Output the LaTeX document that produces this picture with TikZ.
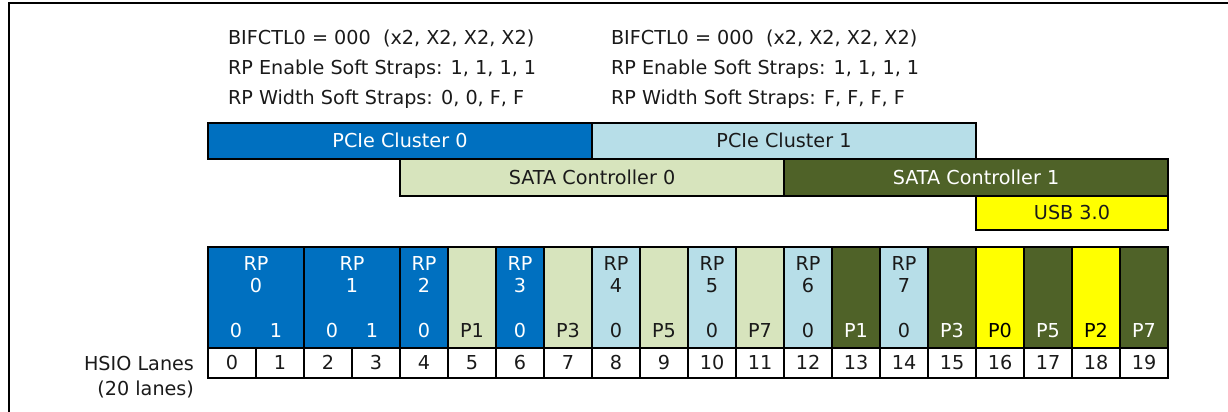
\documentclass[tikz,border=0pt]{standalone}
\usepackage{fontspec}
\setmainfont{DejaVu Sans}
\usetikzlibrary{calc}
\definecolor{cbA}{HTML}{0070C0}
\definecolor{cbB}{HTML}{B7DEE8}
\definecolor{cgA}{HTML}{D7E4BD}
\definecolor{cgB}{HTML}{4F6228}
\definecolor{cyl}{HTML}{FFFF00}
\definecolor{ink}{HTML}{1A1A1A}
\tikzset{
  every node/.style={font=\fontsize{19.2}{23}\selectfont, inner sep=0pt, outer sep=0pt, text=ink},
  barst/.style={draw=black, line width=1.5pt, anchor=north west, text height=13.5pt, text depth=0pt},
  cellst/.style={draw=black, line width=1.5pt, anchor=north west, minimum height=101pt},
  lanest/.style={draw=black, line width=1.5pt, anchor=north west, fill=white, minimum width=48pt, minimum height=30pt, text height=13.5pt, text depth=0pt},
  lbl/.style={anchor=base},
  hdr/.style={anchor=base west},
}
\newcommand\lanecell[6]{%
  \node[cellst, fill=#4, minimum width={48pt*#3}] (#1) at ({208+48*#2},247) {};
  \node[lbl, text=#5] (#1-b) at ($(#1.north)+(0,90)$) {#6};
}
\newcommand\rplabel[3]{%
  \node[lbl, text=#3] (#1-rp) at ($(#1.north)+(0,23)$) {RP};
  \node[lbl, text=#3] (#1-n) at ($(#1.north)+(0,45.5)$) {#2};
}
\begin{document}
\begin{tikzpicture}[x=1pt,y=-1pt]
\useasboundingbox (0,0) rectangle (1228,412);
\coordinate (fa) at (9,412);
\coordinate (fb) at (9,3.3);
\coordinate (fc) at (1228,3.3);
\draw[line width=2pt] (fa) -- (fb) -- (fc);

% header texts
\node[hdr] (h1) at (228,45) {BIFCTL0 = 000\ \ (x2, X2, X2, X2)};
\node[hdr] (h2) at (228,74.5) {RP Enable Soft Straps: 1, 1, 1, 1};
\node[hdr] (h3) at (228,104) {RP Width Soft Straps: 0, 0, F, F};
\node[hdr] (k1) at (611,45) {BIFCTL0 = 000\ \ (x2, X2, X2, X2)};
\node[hdr] (k2) at (611,74.5) {RP Enable Soft Straps: 1, 1, 1, 1};
\node[hdr] (k3) at (611,104) {RP Width Soft Straps: F, F, F, F};

% bars
\node[barst, fill=cbA, text=white, minimum width=384pt, minimum height=36pt] (pc0) at (208,123) {PCIe Cluster 0};
\node[barst, fill=cbB, minimum width=384pt, minimum height=36pt] (pc1) at (592,123) {PCIe Cluster 1};
\node[barst, fill=cgA, minimum width=384pt, minimum height=37pt] (sa0) at (400,159) {SATA Controller 0};
\node[barst, fill=cgB, text=white, minimum width=384pt, minimum height=37pt] (sa1) at (784,159) {SATA Controller 1};
\node[barst, fill=cyl, minimum width=192pt, minimum height=34pt] (usb) at (976,196) {USB 3.0};

% lane cells
\lanecell{c0}{0}{2}{cbA}{white}{}
\rplabel{c0}{0}{white}
\node[lbl, text=white] (c0-b0) at ($(c0.north)+(-20,90)$) {0};
\node[lbl, text=white] (c0-b1) at ($(c0.north)+(20,90)$) {1};
\lanecell{c2}{2}{2}{cbA}{white}{}
\rplabel{c2}{1}{white}
\node[lbl, text=white] (c2-b0) at ($(c2.north)+(-20,90)$) {0};
\node[lbl, text=white] (c2-b1) at ($(c2.north)+(20,90)$) {1};
\lanecell{c4}{4}{1}{cbA}{white}{0}
\rplabel{c4}{2}{white}
\lanecell{c5}{5}{1}{cgA}{ink}{P1}
\lanecell{c6}{6}{1}{cbA}{white}{0}
\rplabel{c6}{3}{white}
\lanecell{c7}{7}{1}{cgA}{ink}{P3}
\lanecell{c8}{8}{1}{cbB}{ink}{0}
\rplabel{c8}{4}{ink}
\lanecell{c9}{9}{1}{cgA}{ink}{P5}
\lanecell{c10}{10}{1}{cbB}{ink}{0}
\rplabel{c10}{5}{ink}
\lanecell{c11}{11}{1}{cgA}{ink}{P7}
\lanecell{c12}{12}{1}{cbB}{ink}{0}
\rplabel{c12}{6}{ink}
\lanecell{c13}{13}{1}{cgB}{white}{P1}
\lanecell{c14}{14}{1}{cbB}{ink}{0}
\rplabel{c14}{7}{ink}
\lanecell{c15}{15}{1}{cgB}{white}{P3}
\lanecell{c16}{16}{1}{cyl}{black}{P0}
\lanecell{c17}{17}{1}{cgB}{white}{P5}
\lanecell{c18}{18}{1}{cyl}{black}{P2}
\lanecell{c19}{19}{1}{cgB}{white}{P7}

% lane numbers
\foreach \i in {0,...,19} {
  \node[lanest] (L\i) at ({208+48*\i},348) {\i};
}

\node[anchor=base east] (hs1) at (194,370.5) {HSIO Lanes};
\node[anchor=base east] (hs2) at (194,395) {(20 lanes)};
\end{tikzpicture}
\end{document}
